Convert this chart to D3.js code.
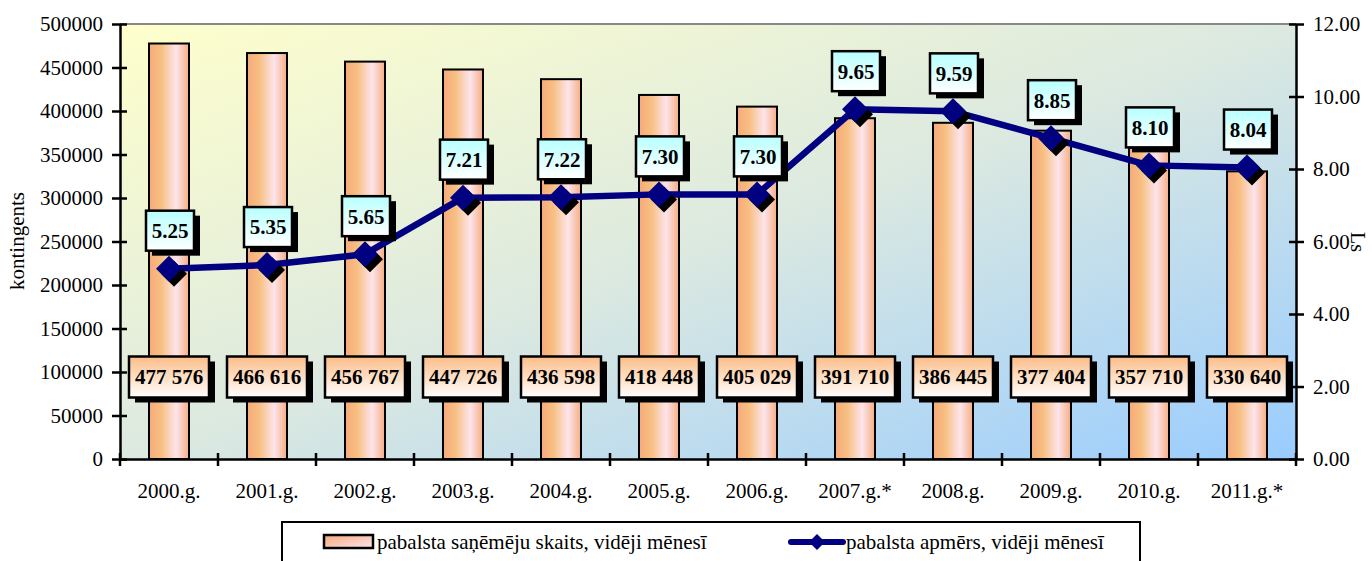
<!DOCTYPE html>
<html><head><meta charset="utf-8">
<script src="https://cdn.jsdelivr.net/npm/d3@7"></script>
<style>body{margin:0;background:#fff}svg{display:block}text{font-family:"Liberation Serif","Times New Roman",serif}</style>
</head><body><svg id="c" width="1372" height="561"></svg>
<script>
const categories = ["2000.g.","2001.g.","2002.g.","2003.g.","2004.g.","2005.g.","2006.g.","2007.g.*","2008.g.","2009.g.","2010.g.","2011.g.*"];
const recipients = [477576,466616,456767,447726,436598,418448,405029,391710,386445,377404,357710,330640];
const amounts = [5.25,5.35,5.65,7.21,7.22,7.30,7.30,9.65,9.59,8.85,8.10,8.04];
const leftTicks = [0,50000,100000,150000,200000,250000,300000,350000,400000,450000,500000];
const rightTicks = [0,2,4,6,8,10,12];
const seriesNames = ["pabalsta saņēmēju skaits, vidēji mēnesī","pabalsta apmērs, vidēji mēnesī"];
const axisTitles = ["kontingents","Ls"];

const FF = "'Liberation Serif','Times New Roman',serif";
const svg = d3.select("#c");
const M = {l:120, r:1296, t:24, b:459};
const x = d3.scaleBand().domain(categories).range([M.l, M.r]).paddingInner(0).paddingOuter(0);
const y = d3.scaleLinear().domain([0,500000]).range([M.b, M.t]);
const y2 = d3.scaleLinear().domain([0,12]).range([M.b, M.t]);
const fmtSp = v => d3.format(",")(v).replace(/,/g," ");

const defs = svg.append("defs");
const bg = defs.append("linearGradient").attr("id","bg").attr("x1","0").attr("y1","0").attr("x2","1").attr("y2","1");
bg.append("stop").attr("offset","0").attr("stop-color","#ffffcc");
bg.append("stop").attr("offset","0.5").attr("stop-color","#dce9e0");
bg.append("stop").attr("offset","1").attr("stop-color","#99ccff");
const bg2 = defs.append("linearGradient").attr("id","bar").attr("x1","0").attr("y1","0").attr("x2","1").attr("y2","0");
[["0","#f6a97c"],["0.3","#f7bf80"],["0.68","#fde4ec"],["1","#f6ae82"]].forEach(s=>bg2.append("stop").attr("offset",s[0]).attr("stop-color",s[1]));
const lg1 = defs.append("linearGradient").attr("id","lab1").attr("x1","0").attr("y1","0").attr("x2","0").attr("y2","1");
lg1.append("stop").attr("offset","0").attr("stop-color","#fbbd88");
lg1.append("stop").attr("offset","1").attr("stop-color","#ffffff");
const lg2 = defs.append("linearGradient").attr("id","lab2").attr("x1","0").attr("y1","0").attr("x2","0").attr("y2","1");
lg2.append("stop").attr("offset","0").attr("stop-color","#b8ffff");
lg2.append("stop").attr("offset","1").attr("stop-color","#ffffff");
const lgLeg = defs.append("linearGradient").attr("id","legbar").attr("x1","0").attr("y1","0").attr("x2","1").attr("y2","1");
lgLeg.append("stop").attr("offset","0").attr("stop-color","#f6a97c");
lgLeg.append("stop").attr("offset","1").attr("stop-color","#fde4ec");

// plot background
svg.append("rect").attr("x",M.l).attr("y",M.t).attr("width",M.r-M.l).attr("height",M.b-M.t).attr("fill","url(#bg)");
svg.append("line").attr("x1",M.l).attr("x2",M.r).attr("y1",M.t).attr("y2",M.t).attr("stroke","#888").attr("stroke-width",2);

// bars
const bw = 40;
svg.selectAll("rect.bar").data(recipients).enter().append("rect").attr("class","bar")
  .attr("x",(d,i)=>x(categories[i])+x.bandwidth()/2-bw/2).attr("width",bw)
  .attr("y",d=>y(d)).attr("height",d=>M.b-y(d))
  .attr("fill","url(#bar)").attr("stroke","#000").attr("stroke-width",2);

// axes
const la = svg.append("g").attr("transform",`translate(${M.l},0)`)
  .call(d3.axisLeft(y).tickValues(leftTicks).tickFormat(d3.format("d")).tickSizeInner(8).tickSizeOuter(0).tickPadding(9));
const ra = svg.append("g").attr("transform",`translate(${M.r},0)`)
  .call(d3.axisRight(y2).tickValues(rightTicks).tickFormat(d3.format(".2f")).tickSizeInner(8).tickSizeOuter(0).tickPadding(9));
[la,ra].forEach(g=>{
  g.attr("font-family",FF).attr("font-size",21);
  g.select(".domain").attr("stroke","#000").attr("stroke-width",2.5);
  g.selectAll(".tick line").attr("stroke","#000").attr("stroke-width",2.5);
  g.selectAll("text").attr("font-size",21).attr("font-family",FF).attr("fill","#000");
});
la.selectAll(".tick line").attr("x1",7);
ra.selectAll(".tick line").attr("x1",-7);
// x axis
const xa = svg.append("g").attr("transform",`translate(0,${M.b})`)
  .call(d3.axisBottom(x).tickSize(0).tickPadding(24));
xa.attr("font-family",FF).attr("font-size",21);
xa.select(".domain").attr("stroke","#000").attr("stroke-width",2.5);
xa.selectAll("text").attr("font-size",21).attr("font-family",FF).attr("fill","#000");
const bounds = categories.slice(1).map(c=>x(c)).concat([M.l, M.r]);
xa.selectAll("line.sep").data(bounds).enter().append("line").attr("class","sep")
  .attr("x1",d=>d).attr("x2",d=>d).attr("y1",-6).attr("y2",7).attr("stroke","#000").attr("stroke-width",2.5);

// axis titles
svg.append("text").attr("transform",`translate(24,241) rotate(-90)`).attr("text-anchor","middle")
  .attr("font-family",FF).attr("font-size",21).text(axisTitles[0]);
svg.append("text").attr("transform",`translate(1351,242) rotate(90)`).attr("text-anchor","middle")
  .attr("font-family",FF).attr("font-size",20).text(axisTitles[1]);

// line
const cx = i => x(categories[i]) + x.bandwidth()/2;
const line = d3.line().x((d,i)=>cx(i)).y(d=>y2(d));
svg.append("path").datum(amounts).attr("d",line).attr("fill","none").attr("stroke","#000080").attr("stroke-width",6.5).attr("stroke-linejoin","round");
const dsz = 13;
const diamond = `M0,${-dsz}L${dsz},0L0,${dsz}L${-dsz},0Z`;
svg.selectAll("path.ds").data(amounts).enter().append("path").attr("class","ds")
  .attr("d",diamond).attr("transform",(d,i)=>`translate(${cx(i)+5},${y2(d)+5})`).attr("fill","#000");
svg.selectAll("path.dm").data(amounts).enter().append("path").attr("class","dm")
  .attr("d",diamond).attr("transform",(d,i)=>`translate(${cx(i)},${y2(d)})`).attr("fill","#000080");

// label helper
function label(cxp, cyp, w, h, txt, grad){
  const g = svg.append("g");
  g.append("rect").attr("x",cxp-w/2+6).attr("y",cyp-h/2+5).attr("width",w).attr("height",h).attr("fill","#000");
  g.append("rect").attr("x",cxp-w/2).attr("y",cyp-h/2).attr("width",w).attr("height",h).attr("fill",`url(#${grad})`).attr("stroke","#000").attr("stroke-width",2.5);
  g.append("text").attr("x",cxp).attr("y",cyp).attr("dy","0.35em").attr("text-anchor","middle")
    .attr("font-family",FF).attr("font-size",21).attr("font-weight","bold").text(txt);
}
recipients.forEach((d,i)=>label(cx(i), 377, 80, 41, fmtSp(d), "lab1"));
amounts.forEach((d,i)=>label(cx(i)+1, y2(d)-38, 48, 40, d3.format(".2f")(d), "lab2"));

// legend
svg.append("rect").attr("x",282).attr("y",522).attr("width",858).attr("height",60).attr("fill","#fff").attr("stroke","#000").attr("stroke-width",2);
svg.append("rect").attr("x",324).attr("y",535).attr("width",49).attr("height",13).attr("fill","url(#legbar)").attr("stroke","#000").attr("stroke-width",2.5);
svg.append("text").attr("x",377).attr("y",542).attr("dy","0.35em").attr("font-family",FF).attr("font-size",21).text(seriesNames[0]);
svg.append("line").attr("x1",791).attr("x2",843).attr("y1",542).attr("y2",542).attr("stroke","#000080").attr("stroke-width",6).attr("stroke-linecap","round");
svg.append("path").attr("d","M0,-8L8,0L0,8L-8,0Z").attr("transform","translate(817,542)").attr("fill","#000080");
svg.append("text").attr("x",846).attr("y",542).attr("dy","0.35em").attr("font-family",FF).attr("font-size",21).text(seriesNames[1]);
</script></body></html>
